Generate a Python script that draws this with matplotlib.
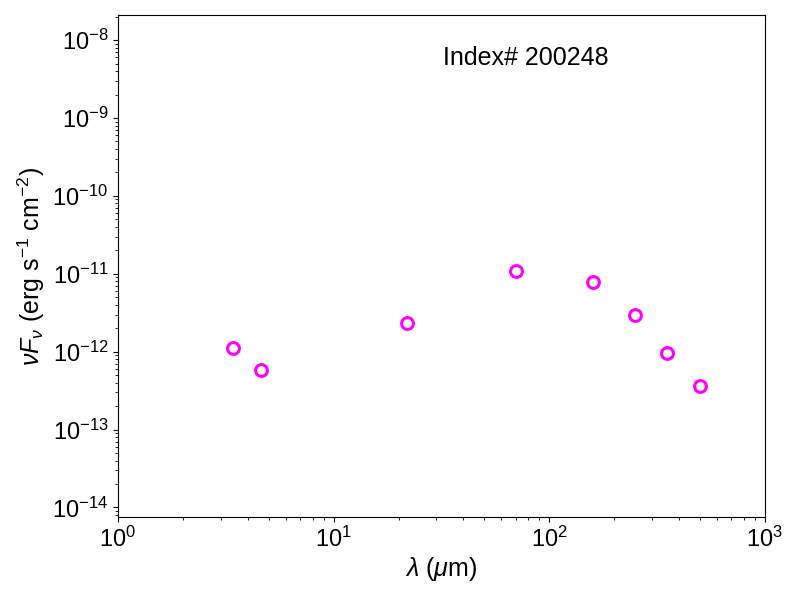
import matplotlib
matplotlib.use("Agg")
import matplotlib.pyplot as plt

plt.rcParams["font.family"] = ["Liberation Sans", "DejaVu Sans"]
plt.rcParams["mathtext.fontset"] = "custom"
plt.rcParams["mathtext.rm"] = "Liberation Sans"
plt.rcParams["mathtext.it"] = "Liberation Sans:italic"

# SED points (WISE + Herschel bands)
wavelength_um = [3.4, 4.6, 22.0, 70.0, 160.0, 250.0, 350.0, 500.0]
nu_f_nu = [1.1e-12, 5.8e-13, 2.35e-12, 1.08e-11, 7.8e-12, 3.0e-12, 9.6e-13, 3.6e-13]
source_label = "Index# 200248"

fig = plt.figure(figsize=(8, 6), dpi=100)
ax = fig.add_axes([0.1475, 0.138, 0.8085, 0.837])

ax.plot(wavelength_um, nu_f_nu, linestyle="none", marker="o", markersize=8.5,
        markerfacecolor="none", markeredgecolor="magenta", markeredgewidth=2.2)

ax.set_xscale("log")
ax.set_yscale("log")
ax.set_xlim(1, 1000)
ax.set_ylim(7.5e-15, 2.1e-8)

ax.set_xlabel(r"$\lambda$ ($\mu$m)", fontsize=18, labelpad=2)
ax.set_ylabel(r"$\nu F_\nu$ (erg s$^{-1}$ cm$^{-2}$)", fontsize=18, labelpad=4)
ax.tick_params(axis="both", which="major", labelsize=17)

ax.text(0.63, 0.915, source_label, transform=ax.transAxes, fontsize=18,
        ha="center", va="center")

fig.savefig("out.png", dpi=100)
